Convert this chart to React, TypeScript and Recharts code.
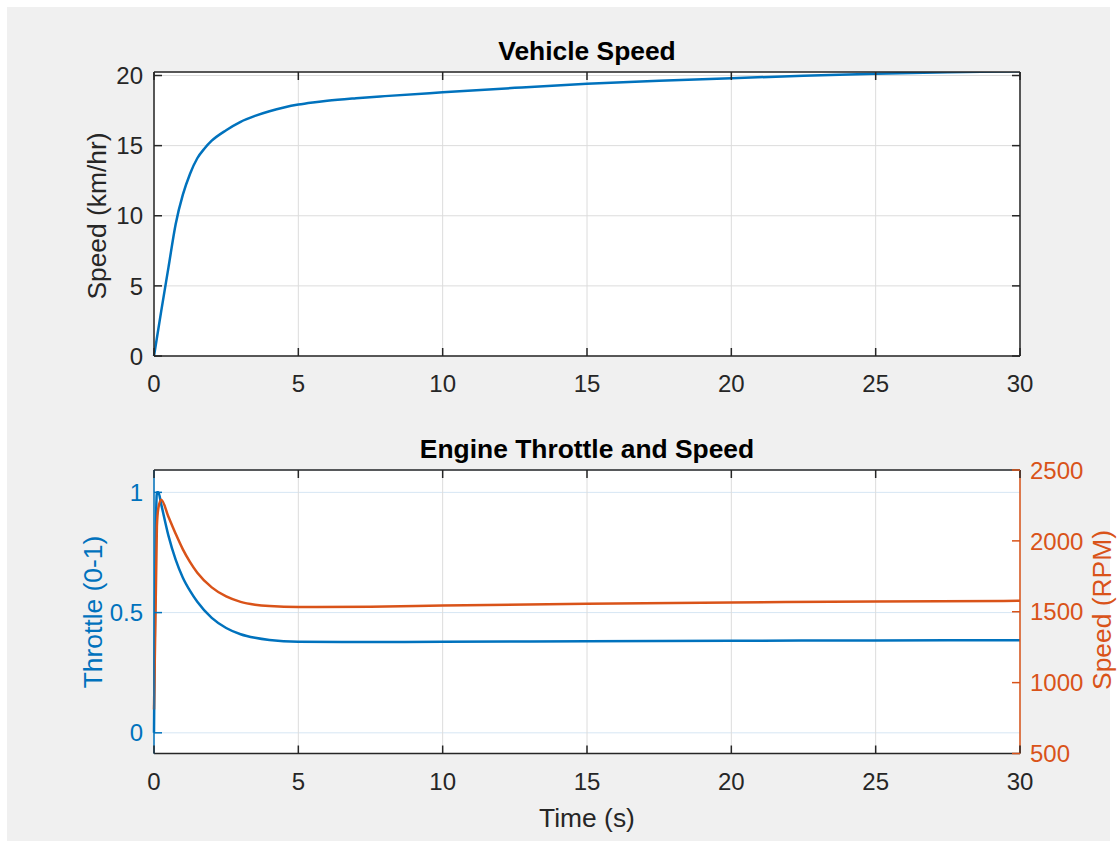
import { LineChart, Line, XAxis, YAxis, CartesianGrid } from "recharts";

const FONT = '"Liberation Sans", Arial, Helvetica, sans-serif';
const INK = "#262626";
const BLUE = "#0072BD";
const ORANGE = "#D95319";
const GRID = "#dcdcdc";
const GRID_BLUE = "#d6e6f4";
const TICK_LEN = 8;

// vehicle speed (km/hr)
const speedTime = [
  0, 0.25, 0.5, 0.75, 1, 1.25, 1.5, 1.75, 2, 2.5, 3, 3.5, 4, 4.5, 5, 5.5, 6, 7, 8, 10, 12.5, 15, 17.5, 20, 22.5, 25,
  27.5, 30,
];
const vehicleSpeed = [
  0, 3.2, 6.3, 9.4, 11.5, 13.0, 14.1, 14.8, 15.35, 16.1, 16.7, 17.12, 17.45, 17.72, 17.93, 18.08, 18.2, 18.38, 18.53,
  18.8, 19.12, 19.41, 19.62, 19.81, 19.98, 20.13, 20.23, 20.3,
];

// throttle (0-1) and engine speed (RPM)
const engineTime = [0, 0.1, 0.15, 0.25, 0.5, 0.75, 1, 1.25, 1.5, 2, 2.5, 3, 3.5, 4, 5, 7.5, 10, 15, 20, 25, 30];
const throttle = [
  0, 1.0, 1.0, 0.95, 0.82, 0.72, 0.645, 0.59, 0.545, 0.478, 0.436, 0.41, 0.395, 0.386, 0.379, 0.378, 0.3785, 0.381,
  0.383, 0.384, 0.385,
];
const engineRpm = [
  810, 2100, 2230, 2290, 2170, 2050, 1940, 1850, 1775, 1672, 1608, 1570, 1550, 1540, 1533, 1536, 1544, 1556, 1565,
  1573, 1577,
];

const timeTicks = [0, 5, 10, 15, 20, 25, 30];
const speedTicks = [0, 5, 10, 15, 20];
const throttleTicks = [0, 0.5, 1];
const rpmTicks = [500, 1000, 1500, 2000, 2500];

const vehicleData = speedTime.map((t, i) => ({ t, speed: vehicleSpeed[i] }));
const engineData = engineTime.map((t, i) => ({ t, throttle: throttle[i], rpm: engineRpm[i] }));

type Side = "bottom" | "top" | "left" | "right";

// inward MATLAB-style ticks, label drawn outside the box
const makeTick = (side: Side, color: string, showLabel: boolean) => (props: any) => {
  const { x, y, payload } = props;
  const common = { fill: color, fontSize: 24, fontFamily: FONT };
  let x2 = x;
  let y2 = y;
  let label = null;
  if (side === "bottom") {
    y2 = y - TICK_LEN;
    if (showLabel)
      label = (
        <text x={x} y={y + 36} textAnchor="middle" {...common}>
          {payload.value}
        </text>
      );
  } else if (side === "top") {
    y2 = y + TICK_LEN;
  } else if (side === "left") {
    x2 = x + TICK_LEN;
    if (showLabel)
      label = (
        <text x={x - 11} y={y} dy="0.36em" textAnchor="end" {...common}>
          {payload.value}
        </text>
      );
  } else {
    x2 = x - TICK_LEN;
    if (showLabel)
      label = (
        <text x={x + 10} y={y} dy="0.36em" textAnchor="start" {...common}>
          {payload.value}
        </text>
      );
  }
  return (
    <g>
      <line x1={x} y1={y} x2={x2} y2={y2} stroke={color} strokeWidth={1.5} />
      {label}
    </g>
  );
};

const textLabel = (text: string, x: number, y: number, color: string, opts: { bold?: boolean; rotate?: boolean } = {}) => ({
  content: () => (
    <text
      x={x}
      y={y}
      textAnchor="middle"
      fill={color}
      fontSize={26.4}
      fontFamily={FONT}
      fontWeight={opts.bold ? "bold" : "normal"}
      transform={opts.rotate ? `rotate(-90, ${x}, ${y})` : undefined}
    >
      {text}
    </text>
  ),
});

// axes are 1px thick so Recharts still draws them; margins take that pixel back
const axisProps = {
  tickSize: 0,
  tickMargin: 0,
  interval: 0 as const,
  tickLine: false,
};

const App = () => {
  return (
    <div style={{ position: "absolute", left: 0, top: 0, width: 1120, height: 841, background: "#ffffff" }}>
      <div style={{ position: "absolute", left: 7, top: 7, width: 1103, height: 834, background: "#f0f0f0" }} />

      <div style={{ position: "absolute", left: 0, top: 0 }}>
        <LineChart width={1120} height={420} data={vehicleData} margin={{ top: 71, right: 99, bottom: 63, left: 153 }}>
          <CartesianGrid fill="#ffffff" fillOpacity={1} stroke={GRID} strokeWidth={1} />
          <XAxis
            dataKey="t"
            type="number"
            domain={[0, 30]}
            ticks={timeTicks}
            height={1}
            {...axisProps}
            axisLine={{ stroke: INK, strokeWidth: 1.5 }}
            tick={makeTick("bottom", INK, true)}
          />
          <XAxis
            xAxisId="top"
            orientation="top"
            dataKey="t"
            type="number"
            domain={[0, 30]}
            ticks={timeTicks}
            height={1}
            {...axisProps}
            axisLine={{ stroke: INK, strokeWidth: 1.5 }}
            tick={makeTick("top", INK, false)}
            label={textLabel("Vehicle Speed", 587, 60, "#000000", { bold: true })}
          />
          <YAxis
            type="number"
            domain={[0, 20.25]}
            allowDataOverflow
            ticks={speedTicks}
            width={1}
            {...axisProps}
            axisLine={{ stroke: INK, strokeWidth: 1.5 }}
            tick={makeTick("left", INK, true)}
            label={textLabel("Speed (km/hr)", 106, 216, INK, { rotate: true })}
          />
          <YAxis
            yAxisId="r"
            orientation="right"
            type="number"
            domain={[0, 20.25]}
            allowDataOverflow
            ticks={speedTicks}
            width={1}
            {...axisProps}
            axisLine={{ stroke: INK, strokeWidth: 1.5 }}
            tick={makeTick("right", INK, false)}
          />
          <Line
            type="monotone"
            dataKey="speed"
            stroke={BLUE}
            strokeWidth={2.5}
            dot={false}
            activeDot={false}
            isAnimationActive={false}
          />
        </LineChart>
      </div>

      <div style={{ position: "absolute", left: 0, top: 420 }}>
        <LineChart width={1120} height={421} data={engineData} margin={{ top: 49, right: 99, bottom: 86.5, left: 153 }}>
          <CartesianGrid
            yAxisId="left"
            fill="#ffffff"
            fillOpacity={1}
            stroke={GRID_BLUE}
            strokeWidth={1}
            vertical={false}
          />
          <CartesianGrid yAxisId="left" stroke={GRID} strokeWidth={1} horizontal={false} />
          <XAxis
            dataKey="t"
            type="number"
            domain={[0, 30]}
            ticks={timeTicks}
            height={1}
            {...axisProps}
            axisLine={{ stroke: INK, strokeWidth: 1.5 }}
            tick={makeTick("bottom", INK, true)}
            label={textLabel("Time (s)", 587, 407, INK)}
          />
          <XAxis
            xAxisId="top"
            orientation="top"
            dataKey="t"
            type="number"
            domain={[0, 30]}
            ticks={timeTicks}
            height={1}
            {...axisProps}
            axisLine={{ stroke: INK, strokeWidth: 1.5 }}
            tick={makeTick("top", INK, false)}
            label={textLabel("Engine Throttle and Speed", 587, 38, "#000000", { bold: true })}
          />
          <YAxis
            yAxisId="left"
            type="number"
            domain={[-0.086, 1.093]}
            allowDataOverflow
            ticks={throttleTicks}
            width={1}
            {...axisProps}
            axisLine={{ stroke: BLUE, strokeWidth: 1.5 }}
            tick={makeTick("left", BLUE, true)}
            label={textLabel("Throttle (0-1)", 102, 192, BLUE, { rotate: true })}
          />
          <YAxis
            yAxisId="right"
            orientation="right"
            type="number"
            domain={[500, 2500]}
            allowDataOverflow
            ticks={rpmTicks}
            width={1}
            {...axisProps}
            axisLine={{ stroke: ORANGE, strokeWidth: 1.5 }}
            tick={makeTick("right", ORANGE, true)}
            label={textLabel("Speed (RPM)", 1111, 190, ORANGE, { rotate: true })}
          />
          <Line
            yAxisId="left"
            type="monotone"
            dataKey="throttle"
            stroke={BLUE}
            strokeWidth={2.5}
            dot={false}
            activeDot={false}
            isAnimationActive={false}
          />
          <Line
            yAxisId="right"
            type="monotone"
            dataKey="rpm"
            stroke={ORANGE}
            strokeWidth={2.5}
            dot={false}
            activeDot={false}
            isAnimationActive={false}
          />
        </LineChart>
      </div>
    </div>
  );
};

export default App;
